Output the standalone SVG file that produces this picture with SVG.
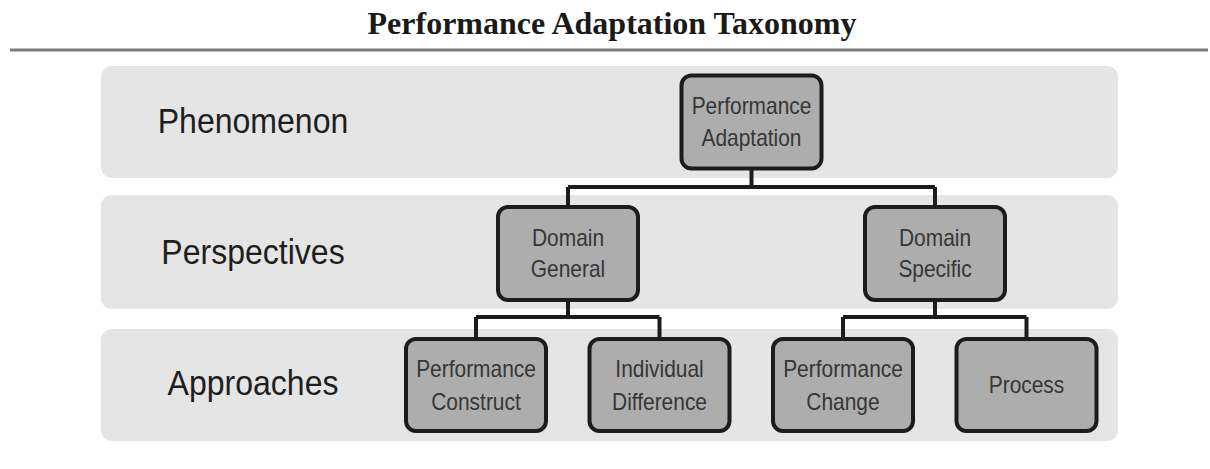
<svg xmlns="http://www.w3.org/2000/svg" width="1210" height="469" viewBox="0 0 1210 469">
<style>
.band{fill:#e5e5e5;stroke:none}
.box{fill:#adadad;stroke:#1c1c1c;stroke-width:4}
.conn{fill:none;stroke:#1c1c1c;stroke-width:4;stroke-linejoin:miter}
.nt{font-family:"Liberation Sans",Arial,sans-serif;font-size:23px;fill:#363636;text-anchor:middle}
.lbl{font-family:"Liberation Sans",Arial,sans-serif;font-size:36px;fill:#1e1e1e;text-anchor:middle}
.title{font-family:"Liberation Serif","Times New Roman",serif;font-size:32px;font-weight:bold;fill:#1a1a1a;text-anchor:middle}
</style>
<rect width="1210" height="469" fill="#ffffff"/>
<text class="title" x="612" y="34">Performance Adaptation Taxonomy</text>
<line x1="10" y1="50" x2="1208" y2="50" stroke="#7d7d7d" stroke-width="3"/>

<g id="bands">
<rect class="band" x="101" y="66" width="1017" height="112" rx="11"/>
<rect class="band" x="101" y="195" width="1017" height="114" rx="11"/>
<rect class="band" x="101" y="329" width="1017" height="112" rx="11"/>
</g>

<g id="level-labels">
<g transform="translate(253,0) scale(0.89,1)"><text class="lbl" x="0" y="133">Phenomenon</text></g>
<g transform="translate(253,0) scale(0.89,1)"><text class="lbl" x="0" y="264">Perspectives</text></g>
<g transform="translate(253,0) scale(0.89,1)"><text class="lbl" x="0" y="395">Approaches</text></g>
</g>

<g id="connectors">
<path class="conn" d="M751.5,170 V187 M568,187 H935 M568,187 V205 M935,187 V205"/>
<path class="conn" d="M568,302 V317 M476,317 H659.5 M476,317 V337 M659.5,317 V337"/>
<path class="conn" d="M935,302 V317 M843,317 H1026.5 M843,317 V337 M1026.5,317 V337"/>
</g>

<g id="performance-adaptation" transform="translate(751.5,122)">
<rect class="box" x="-70" y="-46.5" width="140" height="93" rx="10"/>
<g transform="scale(0.91,1)"><text class="nt" x="0" y="-8">Performance</text><text class="nt" x="0" y="24">Adaptation</text></g>
</g>

<g id="domain-general" transform="translate(568,253.5)">
<rect class="box" x="-70" y="-46.5" width="140" height="93" rx="10"/>
<g transform="scale(0.91,1)"><text class="nt" x="0" y="-8">Domain</text><text class="nt" x="0" y="24">General</text></g>
</g>

<g id="domain-specific" transform="translate(935,253.5)">
<rect class="box" x="-70" y="-46.5" width="140" height="93" rx="10"/>
<g transform="scale(0.91,1)"><text class="nt" x="0" y="-8">Domain</text><text class="nt" x="0" y="24">Specific</text></g>
</g>

<g id="performance-construct" transform="translate(476,385)">
<rect class="box" x="-70" y="-46" width="140" height="92" rx="10"/>
<g transform="scale(0.91,1)"><text class="nt" x="0" y="-8">Performance</text><text class="nt" x="0" y="25">Construct</text></g>
</g>

<g id="individual-difference" transform="translate(659.5,385)">
<rect class="box" x="-70" y="-46" width="140" height="92" rx="10"/>
<g transform="scale(0.91,1)"><text class="nt" x="0" y="-8">Individual</text><text class="nt" x="0" y="25">Difference</text></g>
</g>

<g id="performance-change" transform="translate(843,385)">
<rect class="box" x="-70" y="-46" width="140" height="92" rx="10"/>
<g transform="scale(0.91,1)"><text class="nt" x="0" y="-8">Performance</text><text class="nt" x="0" y="25">Change</text></g>
</g>

<g id="process" transform="translate(1026.5,385)">
<rect class="box" x="-70" y="-46" width="140" height="92" rx="10"/>
<g transform="scale(0.91,1)"><text class="nt" x="0" y="8">Process</text></g>
</g>
</svg>
